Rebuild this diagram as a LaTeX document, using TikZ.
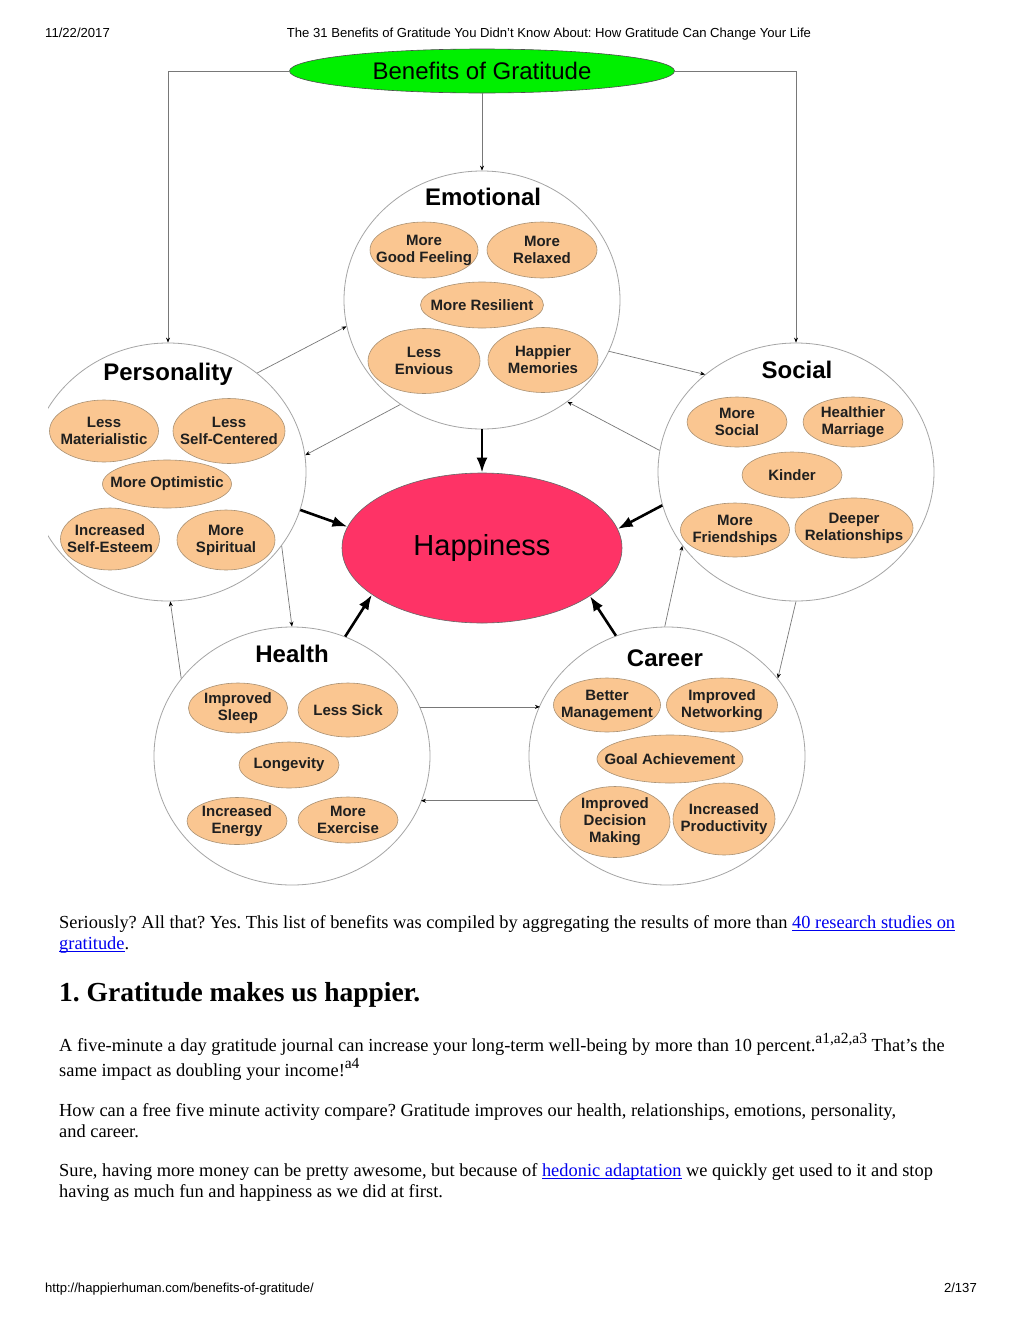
\documentclass[tikz,border=0pt]{standalone}
\usepackage{fontspec}
\setmainfont{Liberation Serif}
\newfontfamily\arialf{Liberation Sans}
\usetikzlibrary{shapes.geometric,arrows.meta}
\definecolor{peach}{RGB}{250,198,145}
\definecolor{peachline}{RGB}{170,145,115}
\definecolor{hapred}{RGB}{254,51,102}
\definecolor{benefitgreen}{RGB}{0,240,0}
\definecolor{ringgray}{RGB}{165,165,165}
\definecolor{xgray}{RGB}{120,120,120}
\definecolor{linkblue}{RGB}{0,0,238}
\newcommand\lnk[1]{{\color{linkblue}\setbox0\hbox{#1}\rlap{\rule[-2.6pt]{\wd0}{1pt}}\box0}}
\newcommand\sups[1]{\raisebox{7.5pt}{\fontsize{15.5}{16}\selectfont #1}}
\frenchspacing
\tikzset{
  bubble/.style={ellipse, draw=peachline, line width=0.6pt, fill=peach, inner sep=0pt},
  blabel/.style={font=\arialf\bfseries\fontsize{15}{17}\selectfont, text=black!88, align=center, inner sep=0pt},
  ring/.style={ellipse, draw=ringgray, line width=0.8pt, minimum width=276pt, minimum height=258pt, inner sep=0pt},
  ringtitle/.style={font=\arialf\bfseries\fontsize{24}{28}\selectfont, inner sep=0pt, anchor=base},
  xlink/.style={draw=xgray, line width=0.7pt, -{Stealth[length=5pt,width=4pt,color=black]}},
  feed/.style={draw=black, line width=2.6pt, -{Latex[length=15pt,width=11pt]}},
  hdr/.style={font=\arialf\fontsize{13.1}{15}\selectfont, inner sep=0pt},
  bodytext/.style={font=\frenchspacing\fontsize{18.4}{21}\selectfont, inner sep=0pt, anchor=base west},
  headtext/.style={font=\frenchspacing\bfseries\fontsize{27.5}{32}\selectfont, inner sep=0pt, anchor=base west}
}
\begin{document}
\begin{tikzpicture}[x=1pt,y=-1pt]
\fill[white] (0,0) rectangle (1020,1320);
\useasboundingbox (0,0) rectangle (1020,1320);

% page header and footer
\node[hdr, anchor=base west] (date) at (45,37) {11/22/2017};
\node[hdr, anchor=base] (ptitle) at (549,37) {The 31 Benefits of Gratitude You Didn’t Know About: How Gratitude Can Change Your Life};
\node[hdr, anchor=base west] (url) at (45,1292) {http://happierhuman.com/benefits-of-gratitude/};
\node[hdr, anchor=base east] (pnum) at (977,1292) {2/137};

\begin{scope}
\clip (48,0) rectangle (1020,1320);
% top
\node[ellipse, draw=black!70, line width=0.6pt, fill=benefitgreen, minimum width=385pt, minimum height=44pt, inner sep=0pt, font=\arialf\fontsize{24}{28}\selectfont] (G) at (482,71) {Benefits of Gratitude};

% category rings
\node[ring] (E) at (482,300) {};
\node[ring] (P) at (168,472) {};
\node[ring] (S) at (796,472) {};
\node[ring] (H) at (292,756) {};
\node[ring] (C) at (667,756) {};

\node[ringtitle] (Et) at (483,205) {Emotional};
\node[ringtitle] (Pt) at (168,380) {Personality};
\node[ringtitle] (St) at (797,378) {Social};
\node[ringtitle] (Ht) at (292,662) {Health};
\node[ringtitle] (Ct) at (665,666) {Career};

% Emotional
\node[bubble, minimum width=108pt, minimum height=56pt, label={[blabel]center:{More\\Good Feeling}}] (e1) at (424,250) {};
\node[bubble, minimum width=110pt, minimum height=56pt, label={[blabel]center:{More\\Relaxed}}] (e2) at (542,250) {};
\node[bubble, minimum width=123pt, minimum height=46pt, label={[blabel]center:{More Resilient}}] (e3) at (482,305) {};
\node[bubble, minimum width=112pt, minimum height=65pt, label={[blabel]center:{Less\\Envious}}] (e4) at (424,361) {};
\node[bubble, minimum width=110pt, minimum height=65pt, label={[blabel]center:{Happier\\Memories}}] (e5) at (543,360) {};

% Personality
\node[bubble, minimum width=109pt, minimum height=62pt, label={[blabel]center:{Less\\Materialistic}}] (p1) at (104,431) {};
\node[bubble, minimum width=112pt, minimum height=65pt, label={[blabel]center:{Less\\Self-Centered}}] (p2) at (229,431) {};
\node[bubble, minimum width=129pt, minimum height=48pt, label={[blabel]center:{More Optimistic}}] (p3) at (167,484) {};
\node[bubble, minimum width=99pt, minimum height=62pt, label={[blabel]center:{Increased\\Self-Esteem}}] (p4) at (110,539) {};
\node[bubble, minimum width=98pt, minimum height=60pt, label={[blabel]center:{More\\Spiritual}}] (p5) at (226,540) {};

% Social
\node[bubble, minimum width=100pt, minimum height=50pt, label={[blabel]center:{More\\Social}}] (s1) at (737,422) {};
\node[bubble, minimum width=100pt, minimum height=50pt, label={[blabel]center:{Healthier\\Marriage}}] (s2) at (853,422) {};
\node[bubble, minimum width=100pt, minimum height=46pt, label={[blabel]center:{Kinder}}] (s3) at (792,475) {};
\node[bubble, minimum width=109pt, minimum height=54pt, label={[blabel]center:{More\\Friendships}}] (s4) at (735,530) {};
\node[bubble, minimum width=118pt, minimum height=60pt, label={[blabel]center:{Deeper\\Relationships}}] (s5) at (854,528) {};

% Health
\node[bubble, minimum width=99pt, minimum height=50pt, label={[blabel]center:{Improved\\Sleep}}] (h1) at (238,708) {};
\node[bubble, minimum width=100pt, minimum height=54pt, label={[blabel]center:{Less Sick}}] (h2) at (348,710) {};
\node[bubble, minimum width=100pt, minimum height=46pt, label={[blabel]center:{Longevity}}] (h3) at (289,765) {};
\node[bubble, minimum width=100pt, minimum height=47pt, label={[blabel]center:{Increased\\Energy}}] (h4) at (237,821) {};
\node[bubble, minimum width=100pt, minimum height=46pt, label={[blabel]center:{More\\Exercise}}] (h5) at (348,820) {};

% Career
\node[bubble, minimum width=107pt, minimum height=54pt, label={[blabel]center:{Better\\Management}}] (c1) at (607,705) {};
\node[bubble, minimum width=111pt, minimum height=54pt, label={[blabel]center:{Improved\\Networking}}] (c2) at (722,705) {};
\node[bubble, minimum width=146pt, minimum height=48pt, label={[blabel]center:{Goal Achievement}}] (c3) at (670,759) {};
\node[bubble, minimum width=110pt, minimum height=71pt, label={[blabel]center:{Improved\\Decision\\Making}}] (c4) at (615,822) {};
\node[bubble, minimum width=102pt, minimum height=72pt, label={[blabel]center:{Increased\\Productivity}}] (c5) at (724,819) {};

% Happiness
\node[ellipse, draw=black!60, line width=0.6pt, fill=hapred, minimum width=280pt, minimum height=150pt, inner sep=0pt, font=\arialf\fontsize{29}{34}\selectfont] (Hp) at (482,548) {Happiness};

% connectors from the top
\draw[xlink] (G.west) -| (P.north);
\draw[xlink] (G.east) -| (S.north);
\draw[xlink] (G.south) -- (E.north);

% links between rings
\draw[xlink] (E.232.7) -- (P.7.4);
\draw[xlink] (P.48) -- (E.191);
\draw[xlink] (E.338.4) -- (S.133.5);
\draw[xlink] (S.171.8) -- (E.310.5);
\draw[xlink] (S.270) -- (C.35.4);
\draw[xlink] (C.91) -- (S.213.6);
\draw[xlink] (H.21.5) -- (C.158.5 |- H.21.5);
\draw[xlink] (C.199.6) -- (H.340.4 |- C.199.6);
\draw[xlink] (P.327.3) -- (H.90.9);
\draw[xlink] (H.145.1) -- (P.271.8);

% to happiness
\draw[feed] (E.south) -- (Hp.north);
\draw[feed] (P.344.3) -- (Hp.171);
\draw[feed] (S.194.8) -- (Hp.8.7);
\draw[feed] (H.66.2) -- (Hp.203.3);
\draw[feed] (C.113.5) -- (Hp.336.2);
\end{scope}

% article text
\node[bodytext] (t1) at (59,928) {Seriously? All that? Yes. This list of benefits was compiled by aggregating the results of more than \lnk{40 research studies on}};
\node[bodytext] (t2) at (59,949) {\lnk{gratitude}.};
\node[headtext] (t3) at (59,1001) {1. Gratitude makes us happier.};
\node[bodytext] (t4) at (59,1051) {A five-minute a day gratitude journal can increase your long-term well-being by more than 10 percent.\sups{a1,a2,a3} That’s the};
\node[bodytext] (t5) at (59,1076) {same impact as doubling your income!\sups{a4}};
\node[bodytext] (t6) at (59,1116) {How can a free five minute activity compare? Gratitude improves our health, relationships, emotions, personality,};
\node[bodytext] (t7) at (59,1137) {and career.};
\node[bodytext] (t8) at (59,1176) {Sure, having more money can be pretty awesome, but because of \lnk{hedonic adaptation} we quickly get used to it and stop};
\node[bodytext] (t9) at (59,1197) {having as much fun and happiness as we did at first.};
\end{tikzpicture}
\end{document}
